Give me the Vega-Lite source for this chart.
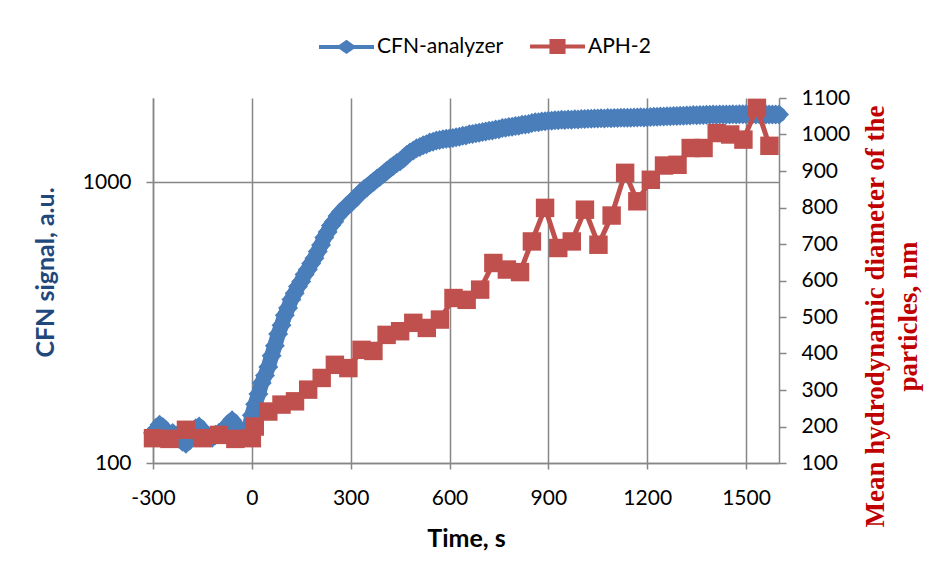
{
  "$schema": "https://vega.github.io/schema/vega-lite/v6.json",
  "width": 626,
  "height": 365,
  "autosize": {"type": "none"},
  "padding": {"left": 153, "top": 98, "right": 164, "bottom": 116},
  "background": "white",
  "config": {
    "view": {"stroke": null},
    "font": "Lato",
    "axis": {
      "domainColor": "#868686", "domainWidth": 1.5,
      "gridColor": "#868686", "gridWidth": 1.5, "gridOpacity": 1,
      "tickColor": "#868686", "tickWidth": 1.5,
      "labelFont": "Lato", "labelFontSize": 21, "labelColor": "#000000",
      "labelFlush": false, "labelOverlap": false, "labelBound": false,
      "titleFont": "Lato", "titleFontSize": 25, "titleFontWeight": "bold", "titleColor": "#000000"
    }
  },
  "datasets": {
    "cfn": [
      {"t":-300,"v":128},{"t":-290,"v":131},{"t":-280,"v":137},{"t":-270,"v":134},{"t":-260,"v":129},{"t":-250,"v":127},{"t":-240,"v":128},{"t":-230,"v":125},{"t":-220,"v":123},{"t":-210,"v":119},
      {"t":-200,"v":117},{"t":-190,"v":121},{"t":-180,"v":127},{"t":-170,"v":133},{"t":-160,"v":135},{"t":-150,"v":130},{"t":-140,"v":127},{"t":-130,"v":124},{"t":-120,"v":123},{"t":-110,"v":126},
      {"t":-100,"v":128},{"t":-90,"v":129},{"t":-80,"v":133},{"t":-70,"v":138},{"t":-60,"v":142},{"t":-50,"v":137},{"t":-40,"v":131},{"t":-30,"v":127},{"t":-20,"v":125},{"t":-10,"v":130},
      {"t":0,"v":148},{"t":10,"v":162},{"t":20,"v":176},{"t":30,"v":193},{"t":40,"v":205},{"t":50,"v":220},{"t":60,"v":241},{"t":70,"v":262},{"t":80,"v":288},{"t":90,"v":310},
      {"t":100,"v":336},{"t":110,"v":357},{"t":120,"v":383},{"t":130,"v":403},{"t":140,"v":426},{"t":150,"v":444},{"t":160,"v":470},{"t":170,"v":489},{"t":180,"v":514},{"t":190,"v":537},
      {"t":200,"v":567},{"t":210,"v":598},{"t":220,"v":637},{"t":230,"v":666},{"t":240,"v":703},{"t":250,"v":726},{"t":260,"v":760},{"t":270,"v":781},{"t":280,"v":807},{"t":290,"v":824},
      {"t":300,"v":850},{"t":310,"v":868},{"t":320,"v":897},{"t":330,"v":918},{"t":340,"v":945},{"t":350,"v":962},{"t":360,"v":987},{"t":370,"v":1006},{"t":380,"v":1032},{"t":390,"v":1050},
      {"t":400,"v":1076},{"t":410,"v":1098},{"t":420,"v":1127},{"t":430,"v":1146},{"t":440,"v":1172},{"t":450,"v":1190},{"t":460,"v":1217},{"t":470,"v":1252},{"t":480,"v":1279},{"t":490,"v":1300},
      {"t":500,"v":1323},{"t":510,"v":1338},{"t":520,"v":1356},{"t":530,"v":1368},{"t":540,"v":1387},{"t":550,"v":1396},{"t":560,"v":1411},{"t":570,"v":1418},{"t":580,"v":1427},{"t":590,"v":1431},
      {"t":600,"v":1434},{"t":610,"v":1439},{"t":620,"v":1450},{"t":630,"v":1454},{"t":640,"v":1466},{"t":650,"v":1470},{"t":660,"v":1484},{"t":670,"v":1488},{"t":680,"v":1499},{"t":690,"v":1503},
      {"t":700,"v":1514},{"t":710,"v":1518},{"t":720,"v":1529},{"t":730,"v":1533},{"t":740,"v":1545},{"t":750,"v":1548},{"t":760,"v":1562},{"t":770,"v":1566},{"t":780,"v":1576},{"t":790,"v":1578},
      {"t":800,"v":1590},{"t":810,"v":1594},{"t":820,"v":1607},{"t":830,"v":1610},{"t":840,"v":1615},{"t":850,"v":1628},{"t":860,"v":1638},{"t":870,"v":1640},{"t":880,"v":1650},{"t":890,"v":1652},
      {"t":900,"v":1661},{"t":910,"v":1660},{"t":920,"v":1667},{"t":930,"v":1666},{"t":940,"v":1672},{"t":950,"v":1670},{"t":960,"v":1676},{"t":970,"v":1674},{"t":980,"v":1680},{"t":990,"v":1678},
      {"t":1000,"v":1684},{"t":1010,"v":1682},{"t":1020,"v":1688},{"t":1030,"v":1686},{"t":1040,"v":1691},{"t":1050,"v":1689},{"t":1060,"v":1693},{"t":1070,"v":1692},{"t":1080,"v":1696},{"t":1090,"v":1694},
      {"t":1100,"v":1698},{"t":1110,"v":1697},{"t":1120,"v":1700},{"t":1130,"v":1699},{"t":1140,"v":1702},{"t":1150,"v":1701},{"t":1160,"v":1704},{"t":1170,"v":1703},{"t":1180,"v":1706},{"t":1190,"v":1705},
      {"t":1200,"v":1708},{"t":1210,"v":1710},{"t":1220,"v":1714},{"t":1230,"v":1713},{"t":1240,"v":1718},{"t":1250,"v":1717},{"t":1260,"v":1722},{"t":1270,"v":1721},{"t":1280,"v":1726},{"t":1290,"v":1725},
      {"t":1300,"v":1730},{"t":1310,"v":1729},{"t":1320,"v":1734},{"t":1330,"v":1733},{"t":1340,"v":1738},{"t":1350,"v":1737},{"t":1360,"v":1741},{"t":1370,"v":1740},{"t":1380,"v":1743},{"t":1390,"v":1742},
      {"t":1400,"v":1745},{"t":1410,"v":1744},{"t":1420,"v":1747},{"t":1430,"v":1746},{"t":1440,"v":1748},{"t":1450,"v":1747},{"t":1460,"v":1749},{"t":1470,"v":1748},{"t":1480,"v":1750},{"t":1490,"v":1749},
      {"t":1500,"v":1750},{"t":1510,"v":1749},{"t":1520,"v":1750},{"t":1530,"v":1748},{"t":1540,"v":1749},{"t":1550,"v":1747},{"t":1560,"v":1748},{"t":1570,"v":1746},{"t":1580,"v":1747},{"t":1590,"v":1745},
      {"t":1600,"v":1745}
    ],
    "aph": [
      {"t":-300,"v":168},{"t":-250,"v":166},{"t":-200,"v":191},{"t":-150,"v":168},{"t":-100,"v":177},{"t":-50,"v":166},{"t":0,"v":168},{"t":9,"v":200},
      {"t":50,"v":241},{"t":90,"v":260},{"t":131,"v":269},{"t":171,"v":301},{"t":212,"v":333},{"t":252,"v":369},{"t":293,"v":360},{"t":333,"v":410},{"t":369,"v":407},
      {"t":409,"v":451},{"t":450,"v":461},{"t":490,"v":484},{"t":531,"v":470},{"t":571,"v":493},{"t":612,"v":552},{"t":652,"v":547},{"t":693,"v":575},{"t":733,"v":648},
      {"t":774,"v":630},{"t":814,"v":623},{"t":850,"v":707},{"t":890,"v":799},{"t":930,"v":689},{"t":971,"v":707},{"t":1011,"v":794},{"t":1052,"v":698},{"t":1092,"v":778},
      {"t":1133,"v":895},{"t":1170,"v":817},{"t":1211,"v":876},{"t":1251,"v":915},{"t":1292,"v":917},{"t":1332,"v":963},{"t":1371,"v":963},{"t":1411,"v":1004},{"t":1452,"v":1000},
      {"t":1492,"v":986},{"t":1533,"v":1073},{"t":1571,"v":969}
    ]
  },
  "encoding": {
    "x": {
      "field": "t", "type": "quantitative",
      "scale": {"domain": [-300, 1600], "nice": false, "zero": false},
      "axis": {
        "values": [-300, 0, 300, 600, 900, 1200, 1500],
        "labelExpr": "'' + datum.value",
        "grid": true, "tickSize": 6, "labelPadding": 18,
        "title": "Time, s", "titleY": 63, "titleBaseline": "top", "titleAlign": "center"
      }
    }
  },
  "layer": [
    {
      "data": {"name": "cfn"},
      "encoding": {
        "y": {
          "field": "v", "type": "quantitative",
          "scale": {"type": "log", "domain": [100, 2000], "nice": false},
          "axis": {
            "orient": "left", "values": [100, 1000], "labelExpr": "'' + datum.value",
            "grid": true, "tickSize": 7, "labelPadding": 15,
            "title": "CFN signal, a.u.", "titleColor": "#1F497D",
            "titleAngle": -90, "titleX": -120, "titleY": 174, "titleAlign": "center", "titleBaseline": "top"
          }
        },
        "color": {
          "datum": "CFN-analyzer",
          "scale": {"domain": ["CFN-analyzer", "APH-2"], "range": ["#4A7EBB", "#C0504D"]},
          "legend": {
            "orient": "none", "legendX": 164, "legendY": -81, "direction": "horizontal",
            "title": null, "padding": 0,
            "symbolSize": 3025, "symbolStrokeWidth": 4,
            "labelFont": "Lato", "labelFontSize": 21, "labelColor": "#000000",
            "labelOffset": 1, "columnPadding": 18,
            "encode": {
              "symbols": {
                "update": {
                  "shape": {"signal": "datum.value === 'CFN-analyzer' ? 'M-1,0L1,0M-0.24,0L0,-0.17L0.24,0L0,0.17Z' : 'M-1,0L1,0M-0.22,-0.2L0.22,-0.2L0.22,0.2L-0.22,0.2Z'"},
                  "fill": {"signal": "datum.value === 'CFN-analyzer' ? '#4A7EBB' : '#C0504D'"},
                  "stroke": {"signal": "datum.value === 'CFN-analyzer' ? '#4A7EBB' : '#C0504D'"},
                  "strokeWidth": {"value": 4},
                  "opacity": {"value": 1},
                  "fillOpacity": {"value": 1}
                }
              }
            }
          }
        }
      },
      "layer": [
        {"mark": {"type": "line", "strokeWidth": 15, "strokeJoin": "round", "strokeCap": "round"}},
        {"mark": {"type": "point", "shape": "diamond", "filled": true, "size": 400, "opacity": 1}}
      ]
    },
    {
      "data": {"name": "aph"},
      "encoding": {
        "y": {
          "field": "v", "type": "quantitative",
          "scale": {"domain": [100, 1100], "nice": false, "zero": false},
          "axis": {
            "orient": "right", "values": [100, 200, 300, 400, 500, 600, 700, 800, 900, 1000, 1100],
            "labelExpr": "'' + datum.value",
            "grid": false, "tickSize": 7, "labelPadding": 15,
            "title": ["Mean hydrodynamic diameter of the", "particles, nm"],
            "titleFont": "Liberation Serif", "titleFontSize": 27, "titleFontWeight": "bold", "titleColor": "#C00000",
            "titleAngle": -90, "titleX": 83, "titleY": 218, "titleAlign": "center", "titleBaseline": "top",
            "titleLineHeight": 33
          }
        },
        "color": {"datum": "APH-2"}
      },
      "layer": [
        {"mark": {"type": "line", "strokeWidth": 5}},
        {"mark": {"type": "point", "shape": "square", "filled": true, "size": 340, "opacity": 1}}
      ]
    }
  ],
  "resolve": {"scale": {"y": "independent"}}
}
